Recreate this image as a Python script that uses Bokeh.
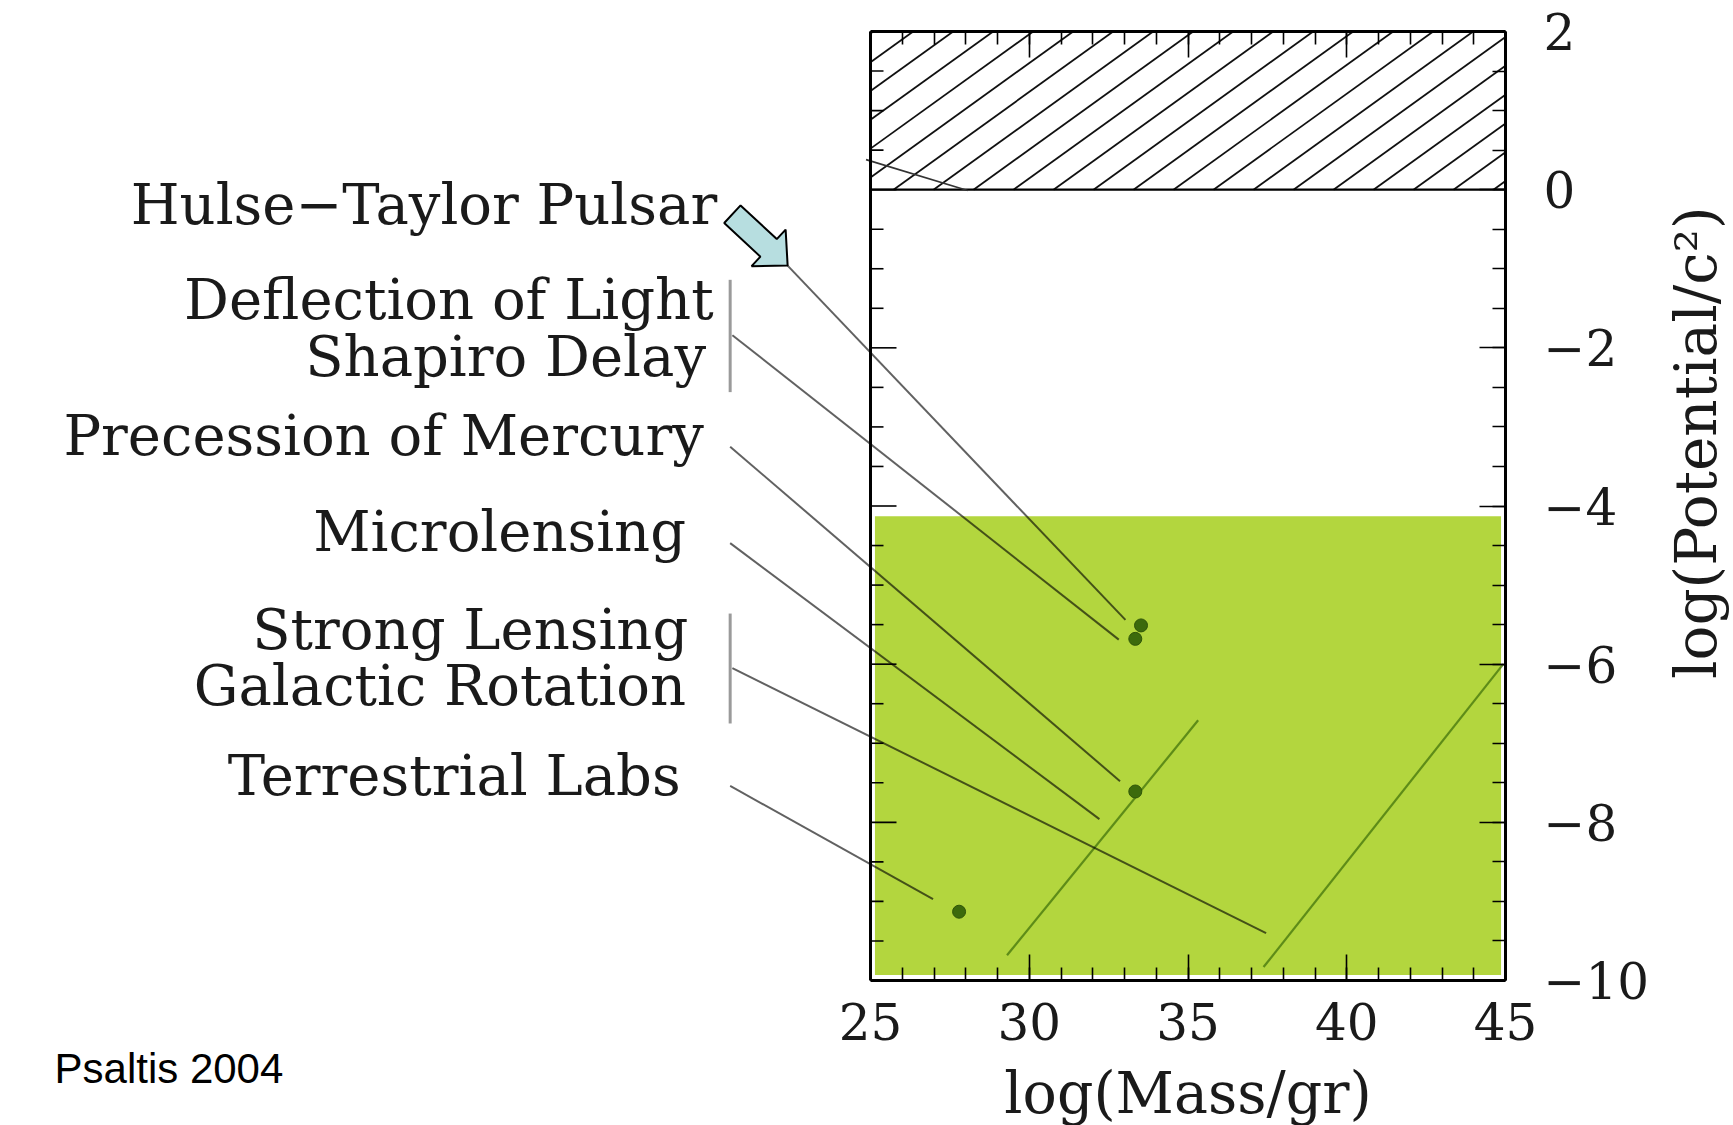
import numpy as np
from bokeh.plotting import figure
from bokeh.models import (Range1d, SingleIntervalTicker, Label, CustomJSTickFormatter,
                          LinearAxis)
from bokeh.core.properties import value
from bokeh.embed import file_html
from bokeh.resources import INLINE

# ---------------- data ----------------
test_names = ["Hulse\u2212Taylor Pulsar", "Deflection of Light", "Shapiro Delay",
              "Precession of Mercury", "Microlensing", "Strong Lensing",
              "Galactic Rotation", "Terrestrial Labs"]
name_x = [20.17, 20.06, 19.82, 19.75, 19.19, 19.26, 19.19, 19.02]
name_baseline = [-0.43, -1.63, -2.35, -3.35, -4.57, -5.81, -6.52, -7.65]

point_mass = [33.52, 33.34, 33.34, 27.79]
point_potential = [-5.51, -5.68, -7.61, -9.13]

leader_x0 = [22.39, 20.65, 20.58, 20.58, 20.65, 20.58]
leader_y0 = [-0.96, -1.84, -3.25, -4.47, -6.05, -7.54]
leader_x1 = [33.03, 32.82, 32.86, 32.21, 37.46, 26.97]
leader_y1 = [-5.44, -5.69, -7.48, -7.96, -9.40, -8.97]

bracket_x = [20.58, 20.58]
bracket_y0 = [-1.14, -5.36]
bracket_y1 = [-2.56, -6.75]

diag_x0 = [29.30, 37.38]
diag_y0 = [-9.68, -9.83]
diag_x1 = [35.32, 44.93]
diag_y1 = [-6.71, -6.00]

excluded_mass = [25, 45]
excluded_potential = [0, 2]
tested_mass = [25.14, 44.86]
tested_potential = [-9.93, -4.13]

edge_x = [24.86, 28.06]
edge_y = [0.38, -0.01]

arrow_tail = (20.65, -0.31)
arrow_tip = (22.39, -0.96)

x_ticks = [25, 30, 35, 40, 45]
y_ticks = [2, 0, -2, -4, -6, -8, -10]
y_tick_labels = ["2", "0", "\u22122", "\u22124", "\u22126", "\u22128", "\u221210"]

credit = "Psaltis 2004"
credit_pos = (-0.70, -11.30)          # left end, baseline
x_title = "log(Mass/gr)"
y_title = "log(Potential/c\u00b2)"

# ---------------- geometry ----------------
XB, YB = (25, 45), (-10, 2)          # the plotted box
PXU = 31.75                           # px per mass unit
BOX_LEFT_PX = 870
FW = 1505
FH = 949
X0 = XB[0] - BOX_LEFT_PX / PXU
sx = FW / (XB[1] - X0)
sy = FH / (YB[1] - YB[0])
SERIF = "DejaVu Serif"
INK = "#1a1a1a"
NAME_FS = 56
CREDIT_FS = 42


def mid_from_baseline(y, fs, asc=0.928, desc=0.236):
    """data y of the em-box middle for a given baseline (text drawn middle-aligned)"""
    return y + (asc - desc) / 2 * fs / sy


p = figure(frame_width=FW, frame_height=FH,
           min_border_left=0, min_border_right=228,
           min_border_top=31, min_border_bottom=0,
           x_range=Range1d(X0, XB[1]), y_range=Range1d(*YB),
           x_axis_location="below", y_axis_location="right",
           output_backend="svg", toolbar_location=None,
           background_fill_color="white", border_fill_color="white")
p.grid.visible = False
p.outline_line_color = None

# tested region (green)
p.quad(left=[tested_mass[0]], right=[tested_mass[1]],
       bottom=[tested_potential[0]], top=[tested_potential[1]],
       fill_color="#b3d63e", line_color=None)

# excluded region: hatch lines (~36 deg, 40 px apart), clipped to the band
H_PX = (excluded_potential[1] - excluded_potential[0]) * sy
W_PX = (excluded_mass[1] - excluded_mass[0]) * sx
SLOPE, GAP, PHASE = 0.72, 40.0, 23.0
hx0, hy0, hx1, hy1 = [], [], [], []
for k in range(-int(H_PX / SLOPE / GAP) - 2, int(W_PX / GAP) + 2):
    xb = PHASE + GAP * k
    if xb > W_PX:
        continue
    if xb >= 0:
        s = (xb, 0.0)
    else:
        yl = -xb * SLOPE
        if yl >= H_PX:
            continue
        s = (0.0, yl)
    e = (xb + H_PX / SLOPE, H_PX)
    hx0.append(excluded_mass[0] + s[0] / sx)
    hy0.append(excluded_potential[0] + s[1] / sy)
    hx1.append(excluded_mass[0] + e[0] / sx)
    hy1.append(excluded_potential[0] + e[1] / sy)
p.segment(x0=hx0, y0=hy0, x1=hx1, y1=hy1, line_color="#111111", line_width=1.8)

p.quad(left=[excluded_mass[0]], right=[excluded_mass[1]],
       bottom=[excluded_potential[0]], top=[excluded_potential[1]],
       fill_color=None, line_color="black", line_width=2.2)

p.segment(x0=[edge_x[0]], y0=[edge_y[0]], x1=[edge_x[1]], y1=[edge_y[1]],
          line_color="#333333", line_width=1.6)

# box left edge and its inward ticks
p.segment(x0=[XB[0]], y0=[YB[0]], x1=[XB[0]], y1=[YB[1]], line_color="black", line_width=3)
minor_y = [float(v) for v in np.arange(YB[0], YB[1] + 0.01, 0.5) if v not in y_ticks]
p.segment(x0=[XB[0]] * len(y_ticks), y0=y_ticks, x1=[XB[0] + 26 / sx] * len(y_ticks),
          y1=y_ticks, line_color="black", line_width=1.6)
p.segment(x0=[XB[0]] * len(minor_y), y0=minor_y, x1=[XB[0] + 13 / sx] * len(minor_y),
          y1=minor_y, line_color="black", line_width=1.6)

# constraint lines inside the tested region
p.segment(x0=diag_x0, y0=diag_y0, x1=diag_x1, y1=diag_y1,
          line_color="#4f7f12", line_width=2.2, line_alpha=0.85)

# leader lines and brackets
p.segment(x0=leader_x0, y0=leader_y0, x1=leader_x1, y1=leader_y1,
          line_color="black", line_alpha=0.62, line_width=2)
p.segment(x0=bracket_x, y0=bracket_y0, x1=bracket_x, y1=bracket_y1,
          line_color="#9a9a9a", line_width=3)

# measurement points
p.scatter(point_mass, point_potential, size=13, fill_color="#3c6a0c",
          line_color="#2f5508")

# block arrow for Hulse-Taylor
tip_px = np.array([0.0, 0.0])
tail_px = np.array([(arrow_tail[0] - arrow_tip[0]) * sx, -(arrow_tail[1] - arrow_tip[1]) * sy])
u = (tip_px - tail_px) / np.hypot(*(tip_px - tail_px))
n = np.array([-u[1], u[0]])
neck = tip_px - u * 26
shaft, head = 12.0, 25.0
poly = [tail_px + n * shaft, neck + n * shaft, neck + n * head, tip_px,
        neck - n * head, neck - n * shaft, tail_px - n * shaft]
ax = [float(arrow_tip[0] + q[0] / sx) for q in poly]
ay = [float(arrow_tip[1] - q[1] / sy) for q in poly]
p.patch(ax, ay, fill_color="#b7dee0", line_color="black", line_width=2)

# test names
p.text(x=name_x, y=[mid_from_baseline(v, NAME_FS) for v in name_baseline],
       text=test_names, text_align="right", text_baseline="middle",
       text_font=value(SERIF), text_font_size=f"{NAME_FS}px", text_color=INK)

# ---------------- axes ----------------
blank = CustomJSTickFormatter(code="return ''")


def style(axis, labels=True):
    axis.axis_line_color = "black"
    axis.axis_line_width = 3
    axis.major_tick_in = 26
    axis.major_tick_out = 0
    axis.minor_tick_in = 13
    axis.minor_tick_out = 0
    axis.major_tick_line_color = "black"
    axis.minor_tick_line_color = "black"
    axis.major_tick_line_width = 1.6
    axis.minor_tick_line_width = 1.6
    axis.major_label_text_font = SERIF
    axis.major_label_text_font_size = "50px"
    axis.major_label_text_color = INK
    if not labels:
        axis.formatter = blank


xb_axis = p.below[0]
xb_axis.ticker = SingleIntervalTicker(interval=5, num_minor_ticks=5)
xb_axis.bounds = XB
style(xb_axis)
xb_axis.major_label_standoff = 22

yr = p.right[0]
yr.ticker = SingleIntervalTicker(interval=2, num_minor_ticks=4)
style(yr)
yr.major_label_standoff = 38
yr.major_label_overrides = {t: s for t, s in zip(y_ticks, y_tick_labels)}

xa = LinearAxis(ticker=SingleIntervalTicker(interval=5, num_minor_ticks=5), bounds=XB)
style(xa, labels=False)
xa.major_label_standoff = 0
p.add_layout(xa, "above")

# titles / credit as side-panel labels (drawn at data positions)
p.add_layout(Label(x=(XB[0] + XB[1]) / 2, y=-11.42, text=x_title, text_font=SERIF,
                   text_font_size="57px", text_color=INK, text_align="center",
                   text_baseline="middle"), "below")
p.add_layout(Label(x=credit_pos[0],
                   y=mid_from_baseline(credit_pos[1], CREDIT_FS, 0.905, 0.212),
                   text=credit, text_font="Liberation Sans",
                   text_font_size=f"{CREDIT_FS}px", text_color="black", text_align="left",
                   text_baseline="middle"), "below")
p.add_layout(Label(x=51.0, y=-3.2, text=y_title, angle=float(np.pi / 2),
                   text_font=SERIF, text_font_size="58px", text_color=INK,
                   text_align="center", text_baseline="middle"), "right")

open("out.html", "w").write(file_html(p, INLINE))
